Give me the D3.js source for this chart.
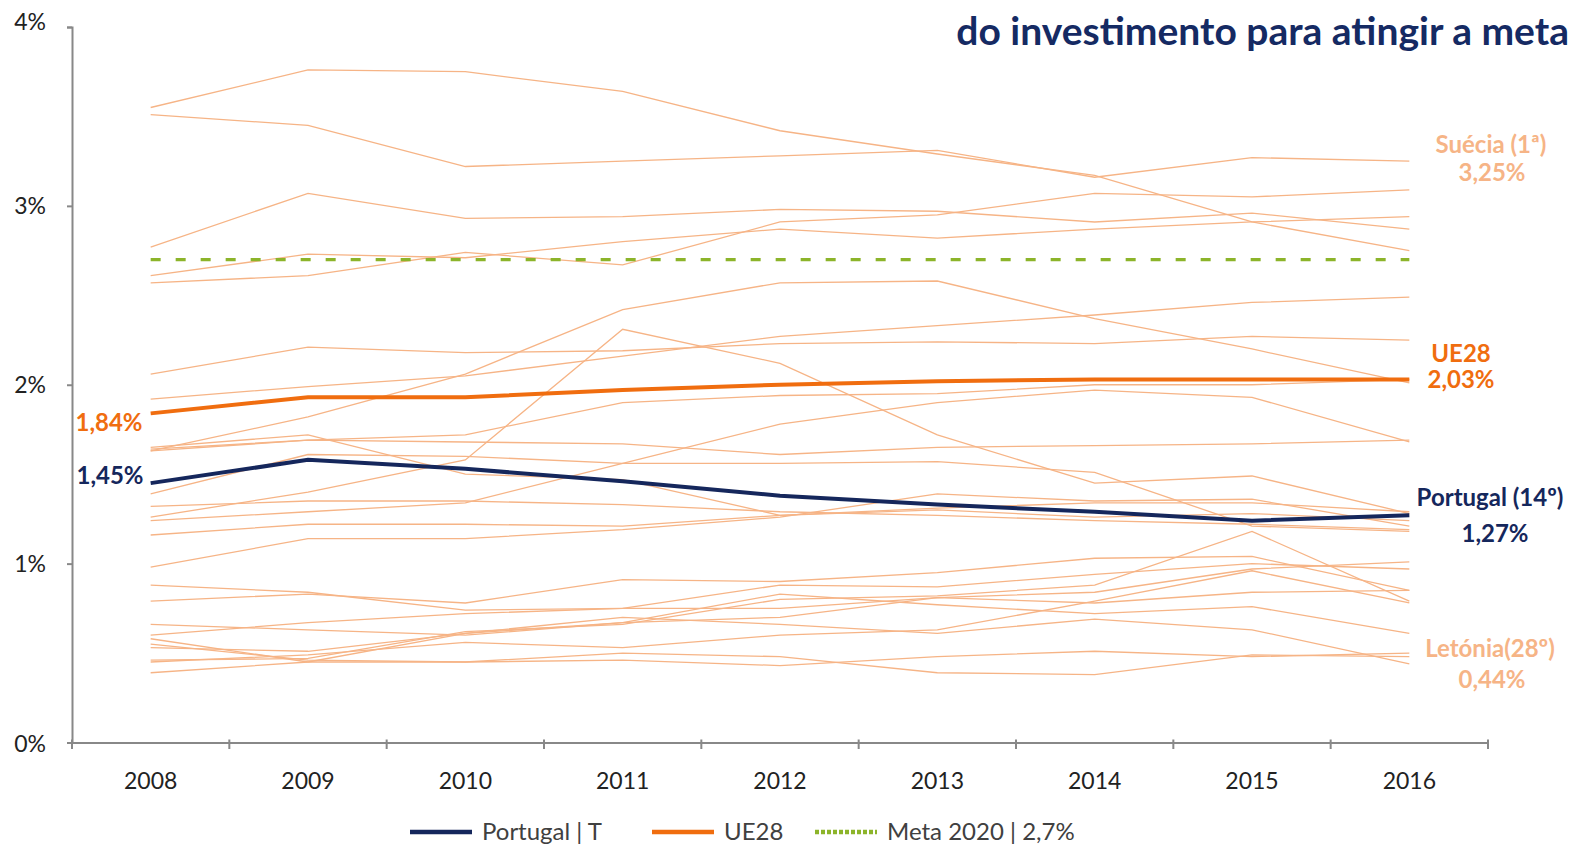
<!DOCTYPE html>
<html>
<head>
<meta charset="utf-8">
<script src="https://cdn.jsdelivr.net/npm/d3@7"></script>
<style>
	body { margin: 0; background: #fff; }
	svg { display: block; font-family: Lato, "Open Sans", sans-serif; }
</style>
</head>
<body>
<script>
(function() {

	var width = 1574;
	var height = 847;

	// anos e valores (% do PIB em I&D)
	var anos = ['2008', '2009', '2010', '2011', '2012', '2013', '2014', '2015', '2016'];

	var paises = ['Suécia', 'Finlândia', 'Dinamarca', 'Áustria', 'Alemanha', 'Bélgica', 'França',
		'Eslovénia', 'Países Baixos', 'Estónia', 'Chéquia', 'Reino Unido', 'Irlanda', 'Luxemburgo',
		'Itália', 'Hungria', 'Espanha', 'Lituânia', 'Polónia', 'Grécia', 'Eslováquia', 'Croácia',
		'Malta', 'Bulgária', 'Chipre', 'Roménia', 'Letónia'];

	var valoresPaises = [
		[3.51, 3.45, 3.22, 3.25, 3.28, 3.31, 3.16, 3.27, 3.25],
		[3.55, 3.76, 3.75, 3.64, 3.42, 3.29, 3.17, 2.91, 2.75],
		[2.77, 3.07, 2.93, 2.94, 2.98, 2.97, 2.91, 2.96, 2.87],
		[2.57, 2.61, 2.74, 2.67, 2.91, 2.95, 3.07, 3.05, 3.09],
		[2.61, 2.73, 2.71, 2.80, 2.87, 2.82, 2.87, 2.91, 2.94],
		[1.92, 1.99, 2.05, 2.16, 2.27, 2.33, 2.39, 2.46, 2.49],
		[2.06, 2.21, 2.18, 2.19, 2.23, 2.24, 2.23, 2.27, 2.25],
		[1.63, 1.82, 2.06, 2.42, 2.57, 2.58, 2.37, 2.20, 2.01],
		[1.64, 1.69, 1.72, 1.90, 1.94, 1.95, 2.00, 2.00, 2.03],
		[1.26, 1.40, 1.58, 2.31, 2.12, 1.72, 1.45, 1.49, 1.28],
		[1.24, 1.29, 1.34, 1.56, 1.78, 1.90, 1.97, 1.93, 1.68],
		[1.63, 1.69, 1.68, 1.67, 1.61, 1.65, 1.66, 1.67, 1.69],
		[1.39, 1.61, 1.60, 1.56, 1.56, 1.57, 1.51, 1.21, 1.18],
		[1.65, 1.72, 1.50, 1.47, 1.27, 1.30, 1.26, 1.28, 1.24],
		[1.16, 1.22, 1.22, 1.21, 1.27, 1.31, 1.34, 1.34, 1.29],
		[0.98, 1.14, 1.14, 1.19, 1.26, 1.39, 1.35, 1.36, 1.21],
		[1.32, 1.35, 1.35, 1.33, 1.29, 1.27, 1.24, 1.22, 1.19],
		[0.79, 0.83, 0.78, 0.91, 0.90, 0.95, 1.03, 1.04, 0.85],
		[0.60, 0.67, 0.72, 0.75, 0.88, 0.87, 0.94, 1.00, 0.97],
		[0.66, 0.63, 0.60, 0.67, 0.70, 0.81, 0.84, 0.97, 1.01],
		[0.46, 0.47, 0.62, 0.66, 0.80, 0.82, 0.88, 1.18, 0.79],
		[0.88, 0.84, 0.74, 0.75, 0.75, 0.81, 0.78, 0.84, 0.85],
		[0.53, 0.51, 0.61, 0.67, 0.83, 0.77, 0.72, 0.76, 0.61],
		[0.45, 0.49, 0.56, 0.53, 0.60, 0.63, 0.79, 0.96, 0.78],
		[0.39, 0.45, 0.45, 0.46, 0.43, 0.48, 0.51, 0.48, 0.50],
		[0.55, 0.46, 0.45, 0.50, 0.48, 0.39, 0.38, 0.49, 0.48],
		[0.58, 0.45, 0.61, 0.70, 0.66, 0.61, 0.69, 0.63, 0.44]
	];

	var portugal = [1.45, 1.58, 1.53, 1.46, 1.38, 1.33, 1.29, 1.24, 1.27];
	var ue28 = [1.84, 1.93, 1.93, 1.97, 2.00, 2.02, 2.03, 2.03, 2.03];
	var meta = [2.7, 2.7, 2.7, 2.7, 2.7, 2.7, 2.7, 2.7, 2.7];

	var yTicks = [0, 1, 2, 3, 4];

	var navy = '#15275c';
	var laranja = '#f06d0f';
	var laranjaClaro = '#f6b486';
	var verde = '#8cb42a';

	var svg = d3.select('body').append('svg')
		.attr('width', width).attr('height', height);

	var x = d3.scaleBand().domain(anos).range([72, 1488]);
	var y = d3.scaleLinear().domain([0, 4]).range([742.5, 27]);

	function cx(d, i) {
		return x(anos[i]) + x.bandwidth() / 2;
	}

	var line = d3.line().x(cx).y(function(d) { return y(d); });

	// eixos
	var yAxis = svg.append('g').attr('transform', 'translate(72,0)')
		.call(d3.axisLeft(y).tickValues(yTicks).tickSize(5).tickPadding(21)
			.tickFormat(function(d) { return d + '%'; }));
	yAxis.selectAll('path, line').attr('stroke', '#888').attr('stroke-width', 2);
	yAxis.selectAll('text').attr('font-size', 23).attr('fill', '#222')
		.attr('font-family', 'Lato, sans-serif');
	yAxis.selectAll('.tick text').filter(function(d) { return d === 4; }).attr('dy', '0.1em');
	yAxis.selectAll('.tick text').filter(function(d) { return d === 0; }).attr('dy', '0.4em');

	var xAxis = svg.append('g').attr('transform', 'translate(0,742.5)')
		.call(d3.axisBottom(x).tickSize(0).tickPadding(30));
	xAxis.selectAll('path').attr('stroke', '#888').attr('stroke-width', 2);
	xAxis.selectAll('text').attr('font-size', 23).attr('fill', '#222')
		.attr('font-family', 'Lato, sans-serif');

	var fronteiras = anos.map(function(a) { return x(a); }).concat([x.range()[1]]);
	svg.append('g').selectAll('line').data(fronteiras).enter().append('line')
		.attr('x1', function(d) { return d; }).attr('x2', function(d) { return d; })
		.attr('y1', 739.5).attr('y2', 749)
		.attr('stroke', '#888').attr('stroke-width', 2);

	// linhas dos paises
	svg.append('g').selectAll('path').data(valoresPaises).enter().append('path')
		.attr('d', line)
		.attr('fill', 'none')
		.attr('stroke', laranjaClaro)
		.attr('stroke-width', 1.3);

	svg.append('path').datum(meta).attr('d', line)
		.attr('fill', 'none').attr('stroke', verde)
		.attr('stroke-width', 3.2).attr('stroke-dasharray', '10,15');

	svg.append('path').datum(ue28).attr('d', line)
		.attr('fill', 'none').attr('stroke', laranja).attr('stroke-width', 4);

	svg.append('path').datum(portugal).attr('d', line)
		.attr('fill', 'none').attr('stroke', navy).attr('stroke-width', 4);

	// rotulos
	function rotulo(tx, ty, texto, cor) {
		svg.append('text').attr('x', tx).attr('y', ty).text(texto)
			.attr('text-anchor', 'middle').attr('font-size', 24)
			.attr('font-weight', 'bold').attr('fill', cor);
	}

	rotulo(1491, 153, 'Suécia (1ª)', laranjaClaro);
	rotulo(1492, 181, '3,25%', laranjaClaro);
	rotulo(1461, 362, 'UE28', laranja);
	rotulo(1461, 388, '2,03%', laranja);
	rotulo(1490, 506, 'Portugal (14º)', navy);
	rotulo(1495, 542, '1,27%', navy);
	rotulo(1490, 657, 'Letónia(28º)', laranjaClaro);
	rotulo(1492, 688, '0,44%', laranjaClaro);
	rotulo(109, 431, '1,84%', laranja);
	rotulo(110, 484, '1,45%', navy);

	svg.append('text').attr('x', 1569).attr('y', 45)
		.text('do investimento para atingir a meta')
		.attr('text-anchor', 'end').attr('font-size', 39)
		.attr('font-weight', 'bold').attr('fill', '#152a63');

	// legenda
	var legenda = [
		{ nome: 'Portugal | T', cor: navy, x: 410, dash: null },
		{ nome: 'UE28', cor: laranja, x: 652, dash: null },
		{ nome: 'Meta 2020 | 2,7%', cor: verde, x: 815, dash: '4,2' }
	];
	var lg = svg.append('g').selectAll('g').data(legenda).enter().append('g');
	lg.append('line')
		.attr('x1', function(d) { return d.x; }).attr('x2', function(d) { return d.x + 62; })
		.attr('y1', 832).attr('y2', 832)
		.attr('stroke', function(d) { return d.cor; })
		.attr('stroke-width', 4.5)
		.attr('stroke-dasharray', function(d) { return d.dash; });
	lg.append('text')
		.attr('x', function(d) { return d.x + 72; }).attr('y', 840)
		.text(function(d) { return d.nome; })
		.attr('font-size', 24).attr('fill', '#404040');

})();
</script>
</body>
</html>
